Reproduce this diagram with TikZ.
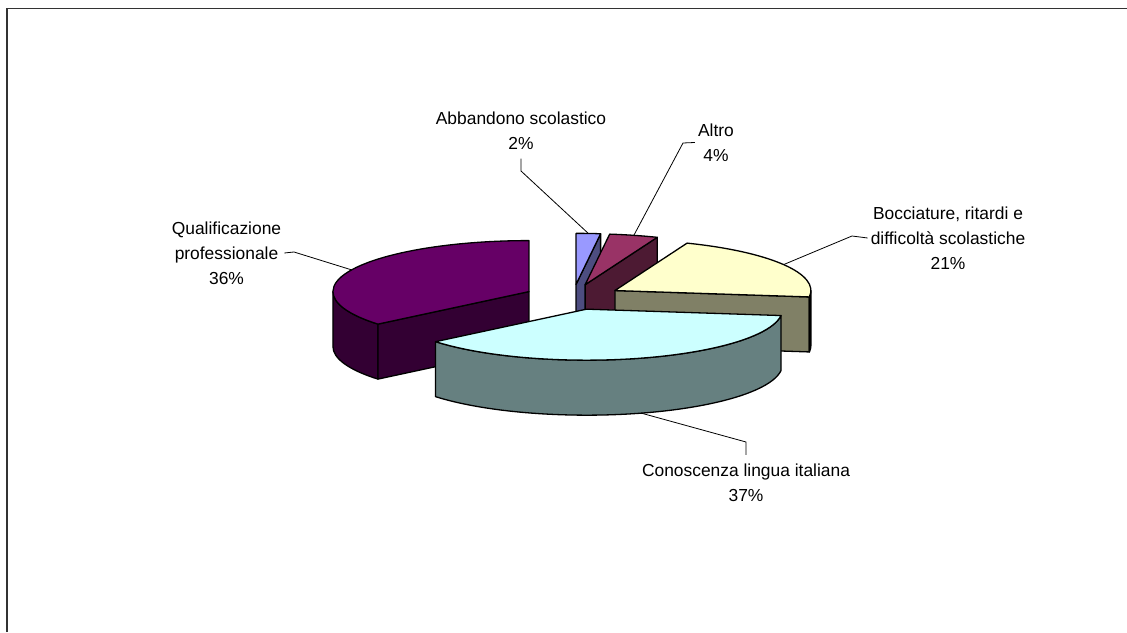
\documentclass[tikz,border=0pt]{standalone}
\usepackage{fontspec}
\setmainfont{Liberation Sans}
\usetikzlibrary{calc}
\definecolor{abbT}{HTML}{9999FF}\definecolor{abbS}{HTML}{4D4D80}
\definecolor{altT}{HTML}{993366}\definecolor{altS}{HTML}{4D1A33}
\definecolor{bocT}{HTML}{FFFFCC}\definecolor{bocS}{HTML}{808066}
\definecolor{conT}{HTML}{CCFFFF}\definecolor{conS}{HTML}{668080}
\definecolor{quaT}{HTML}{660066}\definecolor{quaS}{HTML}{330033}
\begin{document}
\begin{tikzpicture}[x=1pt,y=1pt,
  slice/.style={draw=black, line width=1.3pt, line join=round},
  leader/.style={draw=black, line width=0.8pt},
  lbl/.style={align=center, font=\fontsize{17.4}{25}\selectfont, inner sep=3pt},
  ell/.style={x radius=196, y radius=51},
]
\useasboundingbox (0,0) rectangle (1127,632);
\fill[white] (0,0) rectangle (1127,632);
\draw[line width=1.5pt, black!80] (7,0) -- (7,623.5) -- (1127,623.5);

\coordinate (C) at (573,335);
\coordinate (aA) at ($(C)+(86.4:48.7 and 12.67)$);
\coordinate (lA) at ($(C)+(75.6:48.7 and 12.67)$);
\coordinate (bA) at ($(C)+(30.6:48.7 and 12.67)$);
\coordinate (cA) at ($(C)+(-73.8:48.7 and 12.67)$);
\coordinate (qA) at ($(C)+(154.8:48.7 and 12.67)$);

% Abbandono scolastico
\filldraw[slice, fill=abbS] (aA) -- ($(aA)+(82.8:196 and 51)$) -- ++(0,-55) -- ($(aA)+(0,-55)$) -- cycle;
\filldraw[slice, fill=abbT] (aA) -- ($(aA)+(90:196 and 51)$) arc[ell, start angle=90, end angle=82.8] -- cycle;
% Altro
\filldraw[slice, fill=altS] (lA) -- ($(lA)+(68.4:196 and 51)$) -- ++(0,-55) -- ($(lA)+(0,-55)$) -- cycle;
\filldraw[slice, fill=altT] (lA) -- ($(lA)+(82.8:196 and 51)$) arc[ell, start angle=82.8, end angle=68.4] -- cycle;
% Qualificazione professionale
\filldraw[slice, fill=quaS] ($(qA)+(180:196 and 51)$) arc[ell, start angle=180, end angle=219.6] -- ++(0,-55) arc[ell, start angle=219.6, end angle=180] -- cycle;
\filldraw[slice, fill=quaS] (qA) -- ($(qA)+(219.6:196 and 51)$) -- ++(0,-55) -- ($(qA)+(0,-55)$) -- cycle;
\filldraw[slice, fill=quaT] (qA) -- ($(qA)+(90:196 and 51)$) arc[ell, start angle=90, end angle=219.6] -- cycle;
% Bocciature
\filldraw[slice, fill=bocS] (bA) -- ($(bA)+(-7.2:196 and 51)$) -- ++(0,-55) -- ($(bA)+(0,-55)$) -- cycle;
\filldraw[slice, fill=bocS] ($(bA)+(-7.2:196 and 51)$) arc[ell, start angle=-7.2, end angle=0] -- ++(0,-55) arc[ell, start angle=0, end angle=-7.2] -- cycle;
\filldraw[slice, fill=bocT] (bA) -- ($(bA)+(-7.2:196 and 51)$) arc[ell, start angle=-7.2, end angle=68.4] -- cycle;
% Conoscenza lingua italiana
\filldraw[slice, fill=conS] ($(cA)+(219.6:196 and 51)$) arc[ell, start angle=219.6, end angle=352.8] -- ++(0,-55) arc[ell, start angle=352.8, end angle=219.6] -- cycle;
\filldraw[slice, fill=conT] (cA) -- ($(cA)+(219.6:196 and 51)$) arc[ell, start angle=219.6, end angle=352.8] -- cycle;

% leader targets and knees
\coordinate (abbM) at ($(aA)+(86.4:196 and 51)$);
\coordinate (altM) at ($(lA)+(75.6:196 and 51)$);
\coordinate (bocM) at ($(bA)+(30.6:196 and 51)$);
\coordinate (quaM) at ($(qA)+(154.8:196 and 51)$);
\coordinate (conM) at ($(cA)+(-73.8:196 and 51)+(0,-55)$);
\coordinate (abbK) at (521,461);
\coordinate (altK) at (683,489);
\coordinate (bocK) at (852,396);
\coordinate (quaK) at (294,380);
\coordinate (conK) at (746,190);

% labels
\node[lbl] (abb) at (521,501.5) {Abbandono scolastico\\2\%};
\node[lbl] (alt) at (716,489.5) {Altro\\4\%};
\node[lbl] (boc) at (948,394) {Bocciature, ritardi e\\difficoltà scolastiche\\21\%};
\node[lbl] (qua) at (226.5,379) {Qualificazione\\professionale\\36\%};
\node[lbl] (con) at (746,149) {Conoscenza lingua italiana\\37\%};

\draw[leader] ([yshift=-6]abb.south) -- (abbK) -- (abbM);
\draw[leader] (alt.west) -- (altK) -- (altM);
\draw[leader] (boc.west) -- (bocK) -- (bocM);
\draw[leader] (qua.east) -- (quaK) -- (quaM);
\draw[leader] ([yshift=6]con.north) -- (conK) -- (conM);
\end{tikzpicture}
\end{document}
